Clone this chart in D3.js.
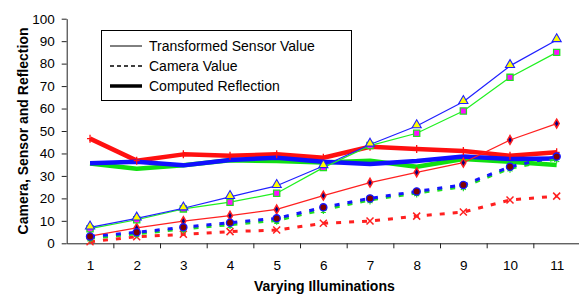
<!DOCTYPE html>
<html>
<head>
<meta charset="utf-8">
<script src="https://cdn.jsdelivr.net/npm/d3@7"></script>
<style>
  body { margin: 0; background: #fff; }
  svg { display: block; font-family: "Liberation Sans", Arial, sans-serif; }
</style>
</head>
<body>
<svg id="chart" width="579" height="295"></svg>
<script>
const illuminations = [1, 2, 3, 4, 5, 6, 7, 8, 9, 10, 11];
const yTicks = [0, 10, 20, 30, 40, 50, 60, 70, 80, 90, 100];

// transformed sensor value (thin solid)
const sensorBlue  = [7.1, 11.1, 15.6, 20.7, 25.6, 34.4, 44, 52.2, 63, 79, 90.5];
const sensorGreen = [6.5, 10.5, 15.3, 18.3, 22.3, 33.7, 43.5, 49, 58.9, 73.9, 85];
const sensorRed   = [3.2, 6.9, 9.9, 12.3, 15.1, 21.2, 27, 31.6, 35.9, 46, 53.3];
// camera value (dashed)
const cameraBlue  = [3, 4.9, 7.1, 9.2, 11.1, 16, 20, 23.1, 26, 34.1, 38.6];
const cameraGreen = [2.3, 4.2, 6.4, 8.3, 10.2, 15, 19.3, 22.4, 25.2, 33.4, 37.6];
const cameraRed   = [0.7, 2.9, 4, 5.2, 5.9, 8.9, 9.9, 12.1, 13.9, 19.3, 21];
// computed reflection (thick)
const reflRed   = [46.6, 36.8, 39.6, 39, 39.6, 38.1, 43, 42, 41.1, 39, 40.5];
const reflGreen = [35.5, 33.2, 34.8, 37, 36.6, 36, 36.8, 34.1, 37.5, 36.3, 34.9];
const reflBlue  = [35.6, 36.3, 34.7, 37.1, 38.1, 36.3, 35.3, 36.6, 38.6, 37.5, 37.8];

const legendItems = ["Transformed Sensor Value", "Camera Value", "Computed Reflection"];

const svg = d3.select("#chart");
const plotLeft = 66.7, plotRight = 580, plotTop = 18.7, plotBottom = 243.3;

const x = d3.scaleLinear().domain([0.5, 11.5]).range([plotLeft, plotRight]);
const y = d3.scaleLinear().domain([0, 100]).range([plotBottom, plotTop]);

// axes
const yAxis = svg.append("g")
  .attr("transform", `translate(${plotLeft},0)`)
  .call(d3.axisLeft(y).tickValues(yTicks).tickSize(5).tickSizeOuter(0).tickPadding(7));
yAxis.selectAll("text").attr("font-size", 13.5).attr("fill", "#000").attr("font-family", "Liberation Sans, Arial");
yAxis.selectAll("line,path").attr("stroke", "#222");

const xTickAxis = svg.append("g")
  .attr("transform", `translate(0,${plotBottom})`)
  .call(d3.axisBottom(x).tickValues(d3.range(1.5, 11, 1)).tickSize(5).tickSizeOuter(0).tickFormat(""));
xTickAxis.selectAll("line,path").attr("stroke", "#222");

const xLabelAxis = svg.append("g")
  .attr("transform", `translate(0,${plotBottom})`)
  .call(d3.axisBottom(x).tickValues(illuminations).tickSize(0).tickPadding(17));
xLabelAxis.select(".domain").remove();
xLabelAxis.selectAll("text").attr("font-size", 13.5).attr("fill", "#000").attr("font-family", "Liberation Sans, Arial");

svg.append("text")
  .attr("x", (plotLeft + plotRight) / 2 + 1).attr("y", 291)
  .attr("text-anchor", "middle")
  .attr("font-size", 14).attr("font-weight", "bold")
  .text("Varying Illuminations");

svg.append("text")
  .attr("transform", `translate(28,131) rotate(-90)`)
  .attr("text-anchor", "middle")
  .attr("font-size", 14).attr("font-weight", "bold")
  .text("Camera, Sensor and Reflection");

const line = d3.line().x((d, i) => x(illuminations[i])).y(d => y(d));

function drawLine(values, color, width, dash) {
  svg.append("path")
    .datum(values)
    .attr("fill", "none")
    .attr("stroke", color)
    .attr("stroke-width", width)
    .attr("stroke-dasharray", dash || null)
    .attr("stroke-linejoin", "round")
    .attr("d", line);
}

// thick reflection lines
drawLine(reflRed, "#ff1010", 4.5);
drawLine(reflGreen, "#10e010", 4.5);
drawLine(reflBlue, "#1010ff", 4.5);
// thin sensor lines
drawLine(sensorRed, "#ff2020", 1.2);
drawLine(sensorGreen, "#20f020", 1.2);
drawLine(sensorBlue, "#2020ff", 1.2);
// dashed camera lines
drawLine(cameraRed, "#ff2020", 3, "5,8");
drawLine(cameraGreen, "#20e020", 3, "5,8");
drawLine(cameraBlue, "#1515ff", 3, "5,8");

function pts(values) {
  return values.map((v, i) => [x(illuminations[i]), y(v)]);
}

// markers
svg.append("g").selectAll("path").data(pts(reflRed)).join("path")
  .attr("d", d => `M${d[0] - 3},${d[1]}h6M${d[0]},${d[1] - 4}v8`)
  .attr("stroke", "#ff1010").attr("stroke-width", 1.3);

svg.append("g").selectAll("path").data(pts(sensorRed)).join("path")
  .attr("d", d3.symbol(d3.symbolDiamond, 22))
  .attr("transform", d => `translate(${d[0]},${d[1]})`)
  .attr("fill", "#000080").attr("stroke", "#ff2020").attr("stroke-width", 1.5);

svg.append("g").selectAll("path").data(pts(sensorGreen)).join("path")
  .attr("d", d3.symbol(d3.symbolSquare, 38))
  .attr("transform", d => `translate(${d[0]},${d[1]})`)
  .attr("fill", "#ff10ff").attr("stroke", "#20e020").attr("stroke-width", 1.3);

svg.append("g").selectAll("path").data(pts(sensorBlue)).join("path")
  .attr("d", d3.symbol(d3.symbolTriangle, 36))
  .attr("transform", d => `translate(${d[0]},${d[1] - 1})`)
  .attr("fill", "#ffff00").attr("stroke", "#2020ff").attr("stroke-width", 1.1);

svg.append("g").selectAll("path").data(pts(cameraRed)).join("path")
  .attr("d", d => `M${d[0] - 3.5},${d[1] - 3.5}L${d[0] + 3.5},${d[1] + 3.5}M${d[0] - 3.5},${d[1] + 3.5}L${d[0] + 3.5},${d[1] - 3.5}`)
  .attr("stroke", "#ff2020").attr("stroke-width", 1.5);

svg.append("g").selectAll("path").data(pts(cameraGreen)).join("path")
  .attr("d", d3.symbol(d3.symbolAsterisk, 24))
  .attr("transform", d => `translate(${d[0]},${d[1] + 1.5})`)
  .attr("fill", "none").attr("stroke", "#20e020").attr("stroke-width", 1.2);

svg.append("g").selectAll("circle").data(pts(cameraBlue)).join("circle")
  .attr("cx", d => d[0]).attr("cy", d => d[1]).attr("r", 3.6)
  .attr("fill", "#800000").attr("stroke", "#1515ff").attr("stroke-width", 1.3);

// legend
const legend = svg.append("g");
legend.append("rect")
  .attr("x", 102).attr("y", 31).attr("width", 250).attr("height", 70)
  .attr("fill", "#333");
legend.append("rect")
  .attr("x", 101.5).attr("y", 30.5).attr("width", 250).attr("height", 70)
  .attr("fill", "#fff").attr("stroke", "#000").attr("stroke-width", 1);

const legendStyles = [
  { width: 1, dash: null },
  { width: 1.5, dash: "4,3" },
  { width: 3.5, dash: null }
];
legendItems.forEach((label, i) => {
  const ly = 46 + i * 20;
  legend.append("line")
    .attr("x1", 110).attr("x2", 142).attr("y1", ly).attr("y2", ly)
    .attr("stroke", "#000")
    .attr("stroke-width", legendStyles[i].width)
    .attr("stroke-dasharray", legendStyles[i].dash);
  legend.append("text")
    .attr("x", 149).attr("y", ly + 5)
    .attr("font-size", 14)
    .text(label);
});
</script>
</body>
</html>
